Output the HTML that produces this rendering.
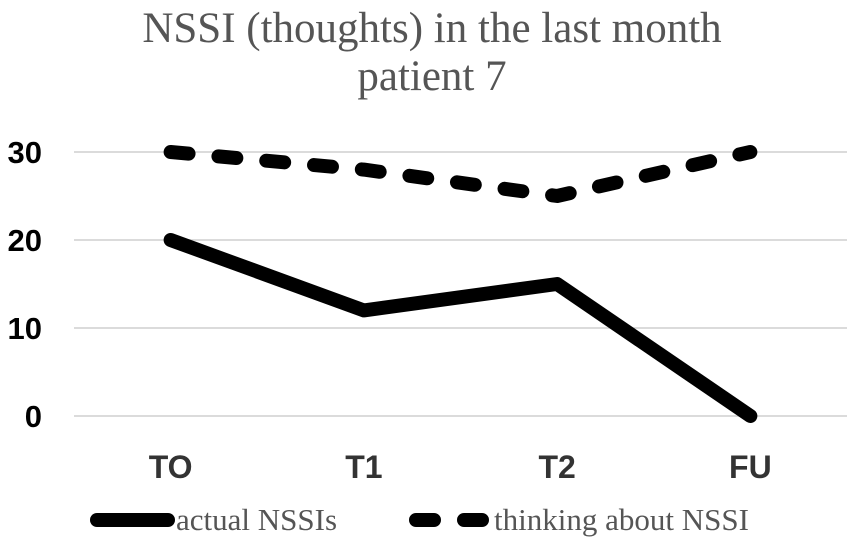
<!DOCTYPE html>
<html><head><meta charset="utf-8"><style>
body{margin:0;background:#fff}
svg{display:block}
</style></head><body>
<svg id="chart" width="851" height="541" viewBox="0 0 851 541">
<text x="432" y="42" text-anchor="middle" font-family="Liberation Serif, serif" font-size="43" fill="#555">NSSI (thoughts) in the last month</text>
<text x="432" y="90" text-anchor="middle" font-family="Liberation Serif, serif" font-size="43" fill="#555">patient 7</text>
<g id="grid"></g><g id="series"></g><g id="legend"></g>
</svg>
<script>
const categories=["TO","T1","T2","FU"];
const actualNSSIs=[20,12,15,0];
const thinkingNSSI=[30,28,25,30];
const yTicks=[0,10,20,30];
const NS="http://www.w3.org/2000/svg";
const x0=74,x1=847,y0=416,yPerUnit=8.8;
const step=(x1-x0)/categories.length;
const xs=i=>x0+step*(i+0.5);
const ys=v=>y0-v*yPerUnit;
function mk(tag,attrs,parent){const e=document.createElementNS(NS,tag);for(const k in attrs)e.setAttribute(k,attrs[k]);parent.appendChild(e);return e;}
const grid=document.getElementById('grid');
yTicks.forEach(t=>{
  const l=mk('line',{x1:x0,x2:x1,y1:ys(t),y2:ys(t),stroke:'#cfcfcf','stroke-width':1.5},grid);
  
  
  const tx=mk('text',{x:42,y:ys(t)+11,'text-anchor':'end','font-family':'Liberation Sans, sans-serif','font-size':31,'font-weight':'bold',fill:'#000'},grid);
  tx.textContent=t;
  
  
});
categories.forEach((c,i)=>{
  const tx=mk('text',{x:xs(i),y:478,'text-anchor':'middle','font-family':'Liberation Sans, sans-serif','font-size':32,'font-weight':'bold',fill:'#333'},grid);
  tx.textContent=c;
  
  
});
const series=document.getElementById('series');
function pts(arr){return arr.map((v,i)=>xs(i)+','+ys(v)).join(' ');}
const p1=mk('polyline',{points:pts(actualNSSIs),fill:'none',stroke:'#000','stroke-width':14,'stroke-linecap':'round','stroke-linejoin':'round'},series);


const p2=mk('polyline',{points:pts(thinkingNSSI),fill:'none',stroke:'#000','stroke-width':14,'stroke-linecap':'round','stroke-linejoin':'round','stroke-dasharray':'18 30'},series);


const lg=document.getElementById('legend');
const g1=mk('g',{},lg);


mk('line',{x1:97,x2:168,y1:520,y2:520,stroke:'#000','stroke-width':14,'stroke-linecap':'round'},g1);
const t1=mk('text',{x:176,y:530,'font-family':'Liberation Serif, serif','font-size':31,fill:'#555'},g1);t1.textContent='actual NSSIs';
const g2=mk('g',{},lg);


mk('line',{x1:416,x2:486,y1:520,y2:520,stroke:'#000','stroke-width':14,'stroke-linecap':'round','stroke-dasharray':'18 30'},g2);
const t2=mk('text',{x:494,y:530,'font-family':'Liberation Serif, serif','font-size':31,fill:'#555'},g2);t2.textContent='thinking about NSSI';
</script>
</body></html>
